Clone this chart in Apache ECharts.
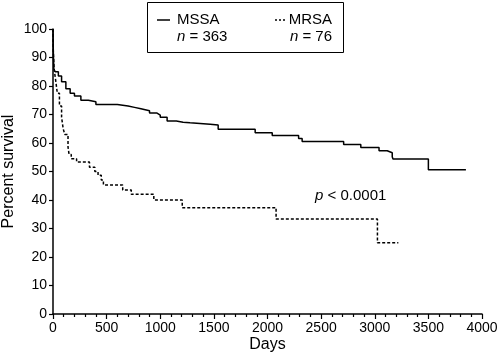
<!DOCTYPE html>
<html>
<head>
<meta charset="utf-8">
<script src="https://cdn.jsdelivr.net/npm/echarts@6/dist/echarts.min.js"></script>
<style>
  html, body { margin: 0; padding: 0; background: #fff; }
  #chart { width: 500px; height: 359px; }
</style>
</head>
<body>
<div id="chart"></div>
<script>
  // Kaplan-Meier steps: [day, percent surviving after that day]
  var mssaDays = [0, 3, 8, 20, 50, 80, 120, 160, 200, 260, 330, 400, 550, 600, 700, 760, 820, 900, 970, 1000, 1064, 1150, 1213, 1278, 1465, 1540, 1885, 2044, 2290, 2323, 2710, 2870, 3040, 3116, 3163, 3170, 3500, 3850];
  var mssaVals = [100, 92, 86, 85, 83.5, 81.5, 79, 77.5, 76.5, 75, 74.5, 73.5, 73.5, 73, 72.5, 72, 71.3, 70.5, 69.8, 69, 67.7, 67.3, 67.1, 66.6, 66.3, 64.8, 63.6, 62.6, 61.6, 60.5, 59.5, 58.4, 57.3, 56.6, 55.2, 54.4, 50.6, 50.6];

  var mrsaDays = [0, 3, 10, 25, 40, 60, 80, 95, 110, 140, 150, 170, 220, 340, 390, 420, 450, 470, 650, 730, 940, 1205, 2080, 3025, 3220];
  var mrsaVals = [100, 92, 86, 82, 77.5, 73, 69, 65, 63, 58.6, 56, 54.5, 53.3, 51.5, 50, 48.7, 47, 45.3, 43.5, 42, 40, 37.3, 33.3, 25, 25];

  var xTicks = [0, 4000, 500];
  var yTicks = [0, 100, 10];

  function pairs(xs, ys) {
    return xs.map(function (x, i) { return [x, ys[i]]; });
  }

  var font = 'Liberation Sans, Arial, Helvetica, sans-serif';
  var chart = echarts.init(document.getElementById('chart'));

  chart.setOption({
    animation: false,
    backgroundColor: '#fff',
    textStyle: { fontFamily: font, color: '#000' },
    grid: { left: 53, right: 18, top: 29, bottom: 45, containLabel: false, outerBoundsMode: 'none' },
    xAxis: {
      type: 'value',
      min: xTicks[0], max: xTicks[1], interval: xTicks[2],
      name: 'Days',
      nameLocation: 'middle',
      nameGap: 23,
      nameMoveOverlap: false,
      nameTextStyle: { fontSize: 16, color: '#000', fontFamily: font },
      axisLine: { lineStyle: { color: '#000', width: 1.5 } },
      axisTick: { length: 5, lineStyle: { color: '#000', width: 1.2 } },
      minorTick: { show: true, splitNumber: 5, length: 3, lineStyle: { color: '#000', width: 1.2 } },
      axisLabel: { fontSize: 14, color: '#000', margin: 7, fontFamily: font,
        formatter: function (v) { return String(v); } },
      splitLine: { show: false }
    },
    yAxis: {
      type: 'value',
      min: yTicks[0], max: yTicks[1], interval: yTicks[2],
      name: 'Percent survival',
      nameLocation: 'middle',
      nameGap: 36,
      nameMoveOverlap: false,
      nameTextStyle: { fontSize: 16, color: '#000', fontFamily: font },
      axisLine: { show: true, lineStyle: { color: '#000', width: 1.5 } },
      axisTick: { show: true, length: 4, lineStyle: { color: '#000', width: 1.2 } },
      axisLabel: { fontSize: 14, color: '#000', margin: 6, fontFamily: font },
      splitLine: { show: false }
    },
    series: [
      {
        name: 'MSSA',
        type: 'line',
        step: 'end',
        symbol: 'none',
        data: pairs(mssaDays, mssaVals),
        lineStyle: { color: '#000', width: 1.5 }
      },
      {
        name: 'MRSA',
        type: 'line',
        step: 'end',
        symbol: 'none',
        data: pairs(mrsaDays, mrsaVals),
        lineStyle: { color: '#000', width: 1.5, type: [3, 2] }
      }
    ],
    graphic: [
      // legend box
      { type: 'rect', shape: { x: 147.5, y: 2.5, width: 196, height: 50 },
        style: { fill: '#fff', stroke: '#000', lineWidth: 1 } },
      { type: 'line', shape: { x1: 157, y1: 20, x2: 170, y2: 20 },
        style: { stroke: '#000', lineWidth: 1.5 } },
      { type: 'text', left: 177, top: 12,
        style: { text: 'MSSA', font: '15px ' + font, fill: '#000' } },
      { type: 'text', left: 177, top: 29,
        style: { text: '{i|n} = 363', font: '15px ' + font, fill: '#000',
          rich: { i: { fontStyle: 'italic', fontSize: 15, fontFamily: font } } } },
      { type: 'line', shape: { x1: 275, y1: 20, x2: 285, y2: 20 },
        style: { stroke: '#000', lineWidth: 1.5, lineDash: [2, 2] } },
      { type: 'text', right: 168, top: 12,
        style: { text: 'MRSA', font: '15px ' + font, fill: '#000' } },
      { type: 'text', right: 168, top: 29,
        style: { text: '{i|n} = 76', font: '15px ' + font, fill: '#000',
          rich: { i: { fontStyle: 'italic', fontSize: 15, fontFamily: font } } } },
      // log-rank p value
      { type: 'text', left: 315, top: 188,
        style: { text: '{i|p} < 0.0001', font: '15px ' + font, fill: '#000',
          rich: { i: { fontStyle: 'italic', fontSize: 15, fontFamily: font } } } }
    ]
  });
</script>
</body>
</html>
